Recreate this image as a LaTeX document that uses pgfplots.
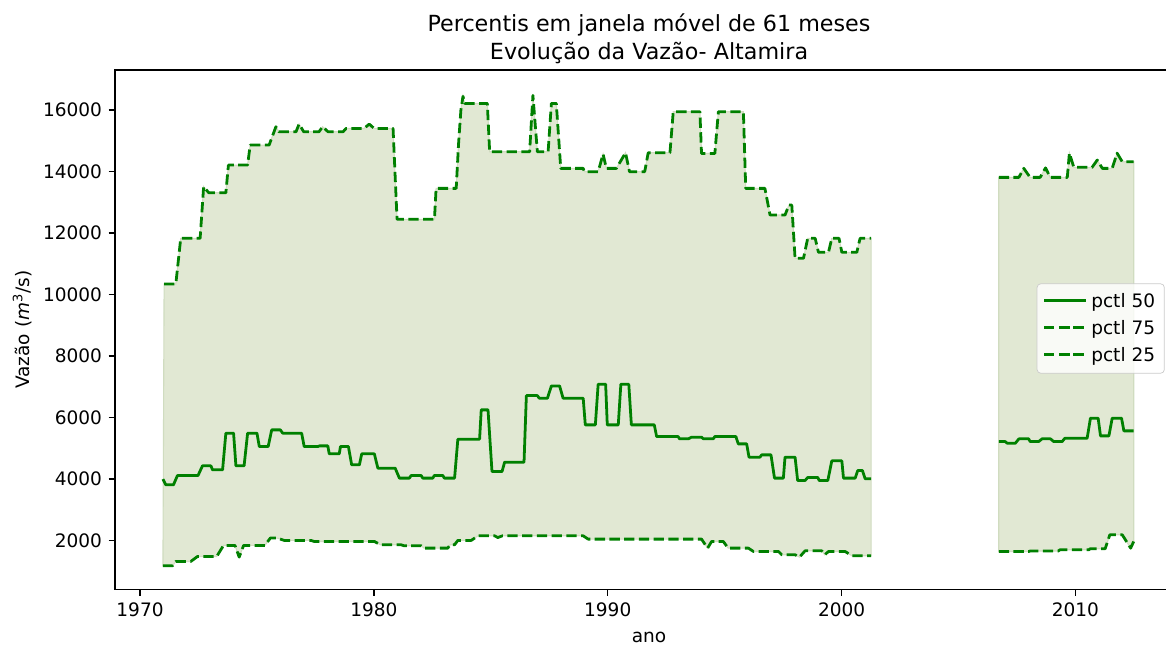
\documentclass[border=0pt]{standalone}
\usepackage{fontspec}
\setmainfont{DejaVu Sans}
\usepackage{pgfplots}
\pgfplotsset{compat=1.18}
\usepgfplotslibrary{fillbetween}
\definecolor{lgreen}{RGB}{0,128,0}
\definecolor{fillc}{RGB}{225,232,211}
\definecolor{edgec}{RGB}{208,220,192}
\definecolor{legedge}{RGB}{204,204,204}
\begin{document}
\begin{tikzpicture}
\begin{axis}[
  at={(0,0)}, anchor=south west,
  width=576.7pt, height=280.4pt, scale only axis,
  set layers,
  xmin=1968.93, xmax=2014.6,
  ymin=405, ymax=17305,
  xtick={1970,1980,1990,2000,2010},
  ytick={2000,4000,6000,8000,10000,12000,14000,16000},
  scaled y ticks=false, scaled x ticks=false,
  /pgf/number format/1000 sep={},
  /pgf/number format/assume math mode=true,
  yticklabel={\pgfmathprintnumber[fixed,precision=0,1000 sep={}]{\tick}},
  tick label style={font=\fontsize{10}{12}\selectfont},
  tick align=outside,
  major tick length=3.5pt,
  every tick/.style={black, line width=0.8pt},
  axis line style={line width=0.8pt},
  xtick pos=bottom, ytick pos=left,
  title={Percentis em janela móvel de 61 meses\\Evolução da Vazão- Altamira},
  title style={font=\fontsize{12}{15}\selectfont, align=center, yshift=-6.3pt},
  xlabel={ano},
  xlabel style={font=\fontsize{10}{12}\selectfont, at={(axis description cs:0.5,-0.093)}, anchor=center},
  ylabel={Vazão (\textit{m}\textsuperscript{3}/s)},
  ylabel style={font=\fontsize{10}{12}\selectfont, at={(axis description cs:-0.087,0.5)}, anchor=center},
  legend style={at={(axis description cs:0.863,0.589)}, anchor=north west,
    draw=legedge, fill=white, fill opacity=0.8, text opacity=1, draw opacity=1,
    rounded corners=2pt, font=\fontsize{10}{12}\selectfont, row sep=1.5pt,
    inner xsep=3pt, inner ysep=3pt},
  legend cell align=left,
  legend image code/.code={\draw[#1, line width=1.5pt, line cap=butt] plot coordinates {(0cm,0.5pt) (0.4cm,0.5pt) (0.8cm,0.5pt)};},
  every axis plot/.append style={line join=round},
]
% pctl 50
\addplot[lgreen, line width=1.5pt] coordinates {
(1970.98,3990)(1971.10,3805)(1971.43,3805)(1971.60,4108)(1972.48,4108)(1972.67,4423)(1973.03,4423)(1973.10,4293)(1973.53,4293)(1973.67,5486)(1974.00,5486)(1974.10,4423)(1974.45,4423)(1974.60,5486)(1975.00,5486)(1975.10,5051)(1975.48,5051)(1975.63,5593)(1976.00,5593)(1976.10,5486)(1976.91,5486)(1977.02,5051)(1977.60,5051)(1977.68,5073)(1978.03,5073)(1978.09,4813)(1978.52,4813)(1978.57,5051)(1978.91,5051)(1979.05,4455)(1979.38,4455)(1979.48,4813)(1980.02,4813)(1980.17,4347)(1980.91,4347)(1981.09,4023)(1981.52,4023)(1981.59,4108)(1982.02,4108)(1982.09,4023)(1982.52,4023)(1982.58,4108)(1982.95,4108)(1983.01,4023)(1983.45,4023)(1983.59,5290)(1984.52,5290)(1984.59,6244)(1984.88,6244)(1985.05,4238)(1985.48,4238)(1985.59,4543)(1986.42,4543)(1986.52,6709)(1986.99,6709)(1987.07,6624)(1987.42,6624)(1987.59,7024)(1987.94,7024)(1988.09,6624)(1988.95,6624)(1989.04,5756)(1989.47,5756)(1989.59,7078)(1989.91,7078)(1989.98,5756)(1990.45,5756)(1990.56,7078)(1990.90,7078)(1991.01,5756)(1991.99,5756)(1992.09,5376)(1993.01,5376)(1993.07,5301)(1993.44,5301)(1993.58,5355)(1994.01,5355)(1994.09,5301)(1994.51,5301)(1994.58,5376)(1995.48,5376)(1995.58,5138)(1995.94,5138)(1996.04,4705)(1996.51,4705)(1996.58,4780)(1996.98,4780)(1997.13,4023)(1997.51,4023)(1997.58,4705)(1998.01,4705)(1998.12,3946)(1998.44,3946)(1998.55,4045)(1998.98,4045)(1999.04,3946)(1999.41,3946)(1999.58,4585)(2000.01,4585)(2000.08,4023)(2000.58,4023)(2000.69,4271)(2000.89,4271)(2001.01,4000)(2001.26,4000)
};
\addlegendentry{pctl 50}
\addplot[lgreen, line width=1.5pt, forget plot] coordinates {
(2006.72,5214)(2006.99,5214)(2007.08,5160)(2007.43,5160)(2007.58,5301)(2008.00,5301)(2008.06,5214)(2008.43,5214)(2008.57,5301)(2008.93,5301)(2009.07,5214)(2009.43,5214)(2009.55,5323)(2010.50,5323)(2010.64,5973)(2010.97,5973)(2011.07,5398)(2011.43,5398)(2011.57,5973)(2011.97,5973)(2012.07,5561)(2012.49,5561)
};
% pctl 75
\addplot[lgreen, line width=1.5pt, dash pattern=on 5.55pt off 2.4pt, name path=u1] coordinates {
(1971.03,10341)(1971.53,10341)(1971.74,11827)(1972.57,11827)(1972.72,13507)(1972.94,13310)(1973.67,13310)(1973.78,14211)(1974.60,14211)(1974.71,14862)(1975.52,14862)(1975.81,15458)(1975.94,15294)(1976.67,15294)(1976.80,15545)(1977.00,15294)(1977.65,15294)(1977.81,15458)(1978.04,15294)(1978.68,15294)(1978.81,15404)(1979.58,15404)(1979.80,15545)(1980.01,15404)(1980.82,15404)(1980.99,12445)(1982.59,12445)(1982.66,13453)(1983.52,13453)(1983.62,14900)(1983.72,16000)(1983.81,16450)(1983.88,16218)(1984.85,16218)(1984.95,14645)(1986.66,14645)(1986.80,16480)(1986.99,14645)(1987.45,14645)(1987.59,16218)(1987.80,16218)(1987.99,14104)(1988.95,14104)(1989.00,13995)(1989.59,13995)(1989.80,14569)(1989.94,14104)(1990.37,14104)(1990.76,14612)(1990.93,13995)(1991.58,13995)(1991.73,14612)(1992.66,14612)(1992.80,15946)(1993.94,15946)(1994.01,14590)(1994.58,14590)(1994.73,15946)(1995.80,15946)(1995.90,13453)(1996.72,13453)(1996.94,12585)(1997.58,12585)(1997.75,12911)(1997.87,12911)(1998.01,11177)(1998.37,11177)(1998.55,11827)(1998.87,11827)(1999.01,11372)(1999.44,11372)(1999.58,11827)(1999.89,11827)(2000.01,11372)(2000.65,11372)(2000.79,11827)(2001.26,11827)
};
\addlegendentry{pctl 75}
\addplot[lgreen, line width=1.5pt, dash pattern=on 5.55pt off 2.4pt, name path=u2, forget plot] coordinates {
(2006.72,13811)(2007.58,13811)(2007.79,14104)(2008.06,13811)(2008.49,13811)(2008.72,14120)(2008.92,13811)(2009.65,13811)(2009.74,14600)(2009.93,14137)(2010.71,14137)(2010.93,14374)(2011.15,14104)(2011.57,14104)(2011.78,14600)(2012.00,14320)(2012.49,14320)
};
% pctl 25
\addplot[lgreen, line width=1.5pt, dash pattern=on 5.55pt off 2.4pt, name path=l1] coordinates {
(1970.98,1171)(1971.39,1171)(1971.53,1311)(1972.17,1311)(1972.46,1474)(1973.28,1474)(1973.57,1833)(1974.06,1833)(1974.24,1453)(1974.43,1833)(1975.34,1833)(1975.57,2071)(1975.88,2071)(1976.17,1995)(1977.31,1995)(1977.45,1962)(1980.02,1962)(1980.28,1854)(1981.16,1854)(1981.29,1822)(1982.02,1822)(1982.15,1745)(1983.16,1745)(1983.26,1854)(1983.45,1854)(1983.59,1995)(1984.16,1995)(1984.45,2146)(1985.16,2146)(1985.30,2090)(1985.50,2146)(1988.95,2146)(1989.16,2038)(1994.01,2038)(1994.27,1745)(1994.44,1961)(1994.94,1961)(1995.15,1745)(1996.01,1745)(1996.23,1636)(1997.30,1636)(1997.44,1529)(1998.01,1529)(1998.20,1453)(1998.44,1659)(1999.15,1659)(1999.28,1529)(1999.44,1636)(2000.15,1636)(2000.44,1496)(2001.26,1496)
};
\addlegendentry{pctl 25}
\addplot[lgreen, line width=1.5pt, dash pattern=on 5.55pt off 2.4pt, name path=l2, forget plot] coordinates {
(2006.72,1636)(2008.00,1636)(2008.06,1650)(2009.26,1650)(2009.34,1691)(2010.57,1691)(2010.63,1724)(2011.27,1724)(2011.47,2179)(2012.00,2179)(2012.36,1745)(2012.49,1961)
};
\addplot[fill=fillc, draw=edgec, line width=0.6pt, forget plot] fill between[of=u1 and l1];
\addplot[fill=fillc, draw=edgec, line width=0.6pt, forget plot] fill between[of=u2 and l2];
\end{axis}
\pgfresetboundingbox
\useasboundingbox (-62.1pt,-30.6pt) rectangle (567.5pt,318.2pt);
\end{tikzpicture}
\end{document}
